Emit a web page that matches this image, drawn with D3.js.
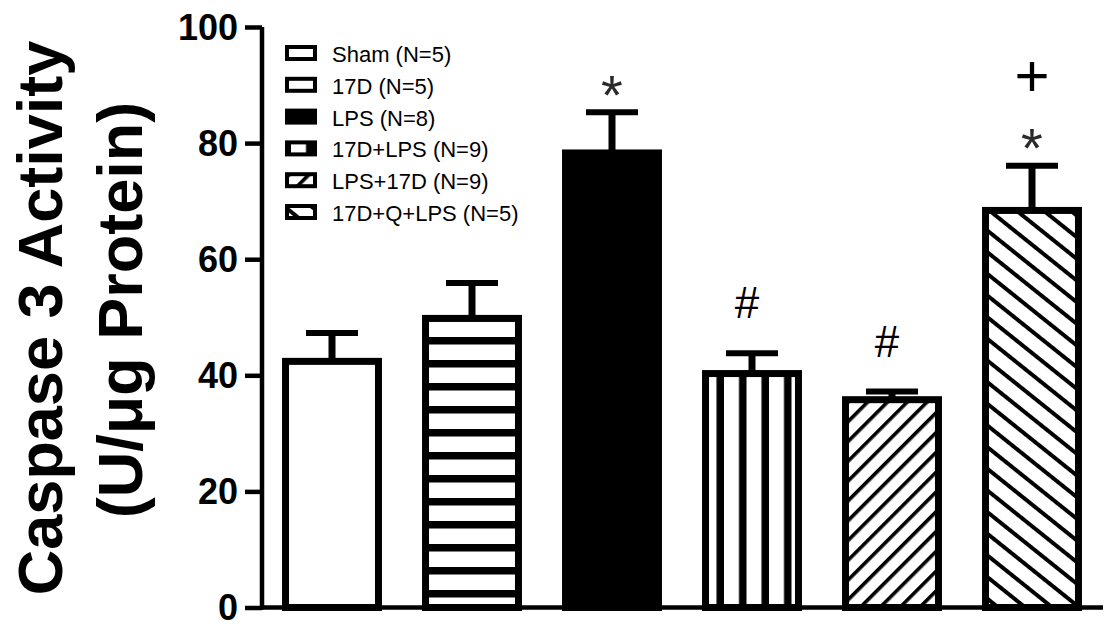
<!DOCTYPE html>
<html><head><meta charset="utf-8">
<script src="https://cdn.jsdelivr.net/npm/d3@7"></script>
<style>body{margin:0;background:#fff}svg{display:block}text{font-family:"Liberation Sans",Arial,sans-serif}</style>
</head><body><svg id="c" width="1108" height="624"></svg>
<script>
const categories = ["Sham (N=5)", "17D (N=5)", "LPS (N=8)", "17D+LPS (N=9)", "LPS+17D (N=9)", "17D+Q+LPS (N=5)"];
const means = [42.4, 49.8, 78.3, 40.3, 35.8, 68.4];
const sems = [4.9, 6.1, 7.0, 3.5, 1.4, 7.7];
const marks1 = ["", "", "*", "#", "#", "*"];
const marks2 = ["", "", "", "", "", "+"];
const fills = ["none", "hstripe", "solid", "vstripe", "fwd", "back"];
const yTicks = [0, 20, 40, 60, 80, 100];
const yTitle1 = "Caspase 3 Activity";
const yTitle2 = "(U/\u03bcg Protein)";

const svg = d3.select("#c");
const defs = svg.append("defs");
const ph = defs.append("pattern").attr("id","hstripe").attr("patternUnits","userSpaceOnUse").attr("width",10).attr("height",23);
ph.append("rect").attr("width",10).attr("height",23).attr("fill","#fff");
ph.append("rect").attr("y",15).attr("width",10).attr("height",7.5).attr("fill","#000");
const pv = defs.append("pattern").attr("id","vstripe").attr("patternUnits","userSpaceOnUse").attr("width",22.5).attr("height",10).attr("x",4);
pv.append("rect").attr("width",22.5).attr("height",10).attr("fill","#fff");
pv.append("rect").attr("x",15).attr("width",7.5).attr("height",10).attr("fill","#000");
const pf = defs.append("pattern").attr("id","fwd").attr("patternUnits","userSpaceOnUse").attr("width",10).attr("height",14).attr("patternTransform","rotate(-45)");
pf.append("rect").attr("width",10).attr("height",14).attr("fill","#fff");
pf.append("rect").attr("width",10).attr("height",3.6).attr("fill","#000");
const pb = defs.append("pattern").attr("id","back").attr("patternUnits","userSpaceOnUse").attr("width",10).attr("height",16.9).attr("patternTransform","rotate(38.7)");
pb.append("rect").attr("width",10).attr("height",16.9).attr("fill","#fff");
pb.append("rect").attr("width",10).attr("height",4).attr("fill","#000");
const fillOf = f => f === "none" ? "#fff" : f === "solid" ? "#000" : `url(#${f})`;

const y = d3.scaleLinear().domain([0,100]).range([607.5,27]);
const x = d3.scaleBand().domain(categories).range([262,1102]).paddingInner(0.336).paddingOuter(0.168);
const cx = c => x(c) + x.bandwidth()/2;

const g = svg.append("g");
const data = categories.map((c,i)=>({c, m:means[i], e:sems[i], f:fills[i], a:marks1[i], b:marks2[i]}));
g.selectAll(".stem").data(data).join("line").attr("class","stem")
  .attr("x1",d=>cx(d.c)).attr("x2",d=>cx(d.c))
  .attr("y1",d=>y(d.m)).attr("y2",d=>y(d.m+d.e)).attr("stroke","#000").attr("stroke-width",7);
g.selectAll(".cap").data(data).join("line").attr("class","cap")
  .attr("x1",d=>cx(d.c)-26).attr("x2",d=>cx(d.c)+26)
  .attr("y1",d=>y(d.m+d.e)).attr("y2",d=>y(d.m+d.e)).attr("stroke","#000").attr("stroke-width",6);
g.selectAll(".bar").data(data).join("rect").attr("class","bar")
  .attr("x",d=>x(d.c)).attr("width",x.bandwidth())
  .attr("y",d=>y(d.m)).attr("height",d=>y(0)-y(d.m))
  .attr("fill",d=>fillOf(d.f)).attr("stroke","#000").attr("stroke-width",7);

// annotations
g.selectAll(".star").data(data.filter(d=>d.a==="*")).join("text").attr("class","star")
  .attr("x",d=>cx(d.c)).attr("y",d=>y(d.m+d.e)-31+0.575*56)
  .attr("text-anchor","middle").attr("font-size",56).attr("fill","#2a2a2a").text(d=>d.a);
g.selectAll(".hash").data(data.filter(d=>d.a==="#")).join("text").attr("class","hash")
  .attr("x",d=>cx(d.c)-5).attr("y",d=>y(d.m+d.e)-35)
  .attr("text-anchor","middle").attr("font-size",44).attr("fill","#000").text(d=>d.a);
g.selectAll(".plus").data(data.filter(d=>d.b)).join("text").attr("class","plus")
  .attr("x",d=>cx(d.c)).attr("y",d=>y(d.m+d.e)-90+20)
  .attr("text-anchor","middle").attr("font-size",60).attr("fill","#000").text(d=>d.b);

// axes
const yAxis = d3.axisLeft(y).tickValues(yTicks).tickSize(17).tickPadding(7);
const ax = svg.append("g").attr("transform","translate(262,0)").call(yAxis);
ax.select(".domain").attr("stroke","#000").attr("stroke-width",4.5).attr("d","M0,27V609.5");
ax.selectAll(".tick line").attr("stroke","#000").attr("stroke-width",4.5);
ax.selectAll(".tick text").attr("font-size",36).attr("font-weight","bold").attr("fill","#000")
  .attr("font-family","'Liberation Sans',Arial,sans-serif").attr("dy","0.34em");
svg.append("line").attr("x1",260).attr("x2",1103).attr("y1",y(0)).attr("y2",y(0)).attr("stroke","#000").attr("stroke-width",4.5);

// y title
svg.append("text").attr("transform","translate(62,318) rotate(-90)").attr("text-anchor","middle")
  .attr("font-size",63).attr("font-weight","bold").text(yTitle1);
svg.append("text").attr("transform","translate(142,310) rotate(-90)").attr("text-anchor","middle")
  .attr("font-size",63).attr("font-weight","bold").text(yTitle2);

// legend
const lg = svg.append("g").attr("transform","translate(287,47)");
const rows = lg.selectAll("g").data(data).join("g").attr("transform",(d,i)=>`translate(0,${i*31.8})`);
rows.append("rect").attr("width",28).attr("height",12)
  .attr("fill",d=>fillOf(d.f)).attr("stroke","#000").attr("stroke-width",4);
rows.append("text").attr("x",45).attr("y",15).attr("font-size",22).attr("fill","#000").text(d=>d.c);
</script></body></html>
